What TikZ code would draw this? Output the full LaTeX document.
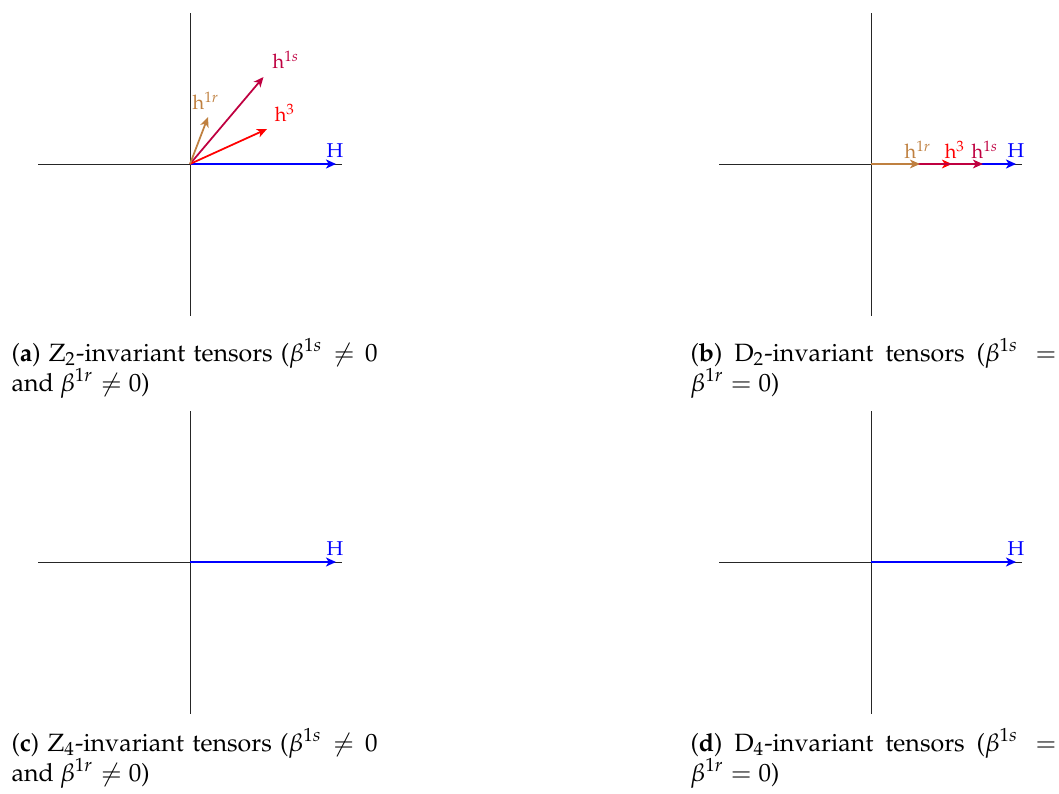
\documentclass[tikz,border=0pt]{standalone}
\usepackage[T1]{fontenc}
\usepackage{mathpazo}
\usetikzlibrary{arrows.meta}
\definecolor{hbrown}{rgb}{0.75,0.5,0.25}
\definecolor{hpurple}{rgb}{0.75,0,0.25}
\begin{document}
\begin{tikzpicture}[x=0.4pt,y=-0.4pt,
  axis/.style={line width=0.4pt, black!85},
  vec/.style={line width=0.7pt,-{Stealth[length=4pt,width=3.5pt,inset=1.1pt]}},
  bigvec/.style={line width=0.85pt,-{Stealth[length=4pt,width=3.6pt,inset=1.1pt]}},
  lab/.style={font=\footnotesize, inner sep=0pt},
  capt/.style={anchor=base west, inner sep=0pt, text width=146.4pt, align=justify}]
\useasboundingbox (0,0) rectangle (1059,793);

% ---------- panel (a)
\coordinate (aO) at (190,164);
\coordinate (aL) at (38,164);  \coordinate (aR) at (342,164);
\coordinate (aT) at (190,13);  \coordinate (aB) at (190,316);
\draw[axis] (aL) -- (aR);
\draw[axis] (aT) -- (aB);
\coordinate (aH) at (336,164);
\coordinate (a1s) at (263.5,77);
\coordinate (a3) at (267,129);
\coordinate (a1r) at (208,117);
\draw[bigvec,blue] (aO) -- (aH);
\draw[vec,hpurple] (aO) -- (a1s);
\draw[vec,red] (aO) -- (a3);
\draw[vec,hbrown] (aO) -- (a1r);
\node[lab,text=blue] (aHl) at (335,151) {$\mathrm{H}$};
\node[lab,text=hpurple] (a1sl) at (286,60) {$\mathrm{h}^{1s}$};
\node[lab,text=red] (a3l) at (285,113) {$\mathrm{h}^{3}$};
\node[lab,text=hbrown] (a1rl) at (206,101) {$\mathrm{h}^{1r}$};
\node[capt] (acap) at (11,361) {(\textbf{a}) Z$_2$-invariant tensors ($\beta^{1s}\neq 0$\linebreak and $\beta^{1r}\neq 0$)};

% ---------- panel (b)
\coordinate (bO) at (871,164);
\coordinate (bL) at (719,164);  \coordinate (bR) at (1022,164);
\coordinate (bT) at (871,13);   \coordinate (bB) at (871,316);
\draw[axis] (bL) -- (bR);
\draw[axis] (bT) -- (bB);
\coordinate (bH) at (1016,164);
\coordinate (b1s) at (983,164);
\coordinate (b3) at (952,164);
\coordinate (b1r) at (920,164);
\draw[bigvec,blue] (bO) -- (bH);
\draw[vec,red] (bO) -- (b3);
\draw[vec,hpurple] (bO) -- (b1s);
\draw[vec,hbrown] (bO) -- (b1r);
\node[lab,text=blue] (bHl) at (1016,151) {$\mathrm{H}$};
\node[lab,text=hpurple] (b1sl) at (985,150) {$\mathrm{h}^{1s}$};
\node[lab,text=red] (b3l) at (955,150) {$\mathrm{h}^{3}$};
\node[lab,text=hbrown] (b1rl) at (918,150) {$\mathrm{h}^{1r}$};
\node[capt] (bcap) at (690,361) {(\textbf{b}) D$_2$-invariant tensors ($\beta^{1s} =$\linebreak $\beta^{1r}=0$)};

% ---------- panel (c)
\coordinate (cO) at (190,562);
\coordinate (cL) at (38,562);  \coordinate (cR) at (342,562);
\coordinate (cT) at (190,411); \coordinate (cB) at (190,714);
\draw[axis] (cL) -- (cR);
\draw[axis] (cT) -- (cB);
\coordinate (cH) at (336,562);
\draw[bigvec,blue] (cO) -- (cH);
\node[lab,text=blue] (cHl) at (335,549) {$\mathrm{H}$};
\node[capt] (ccap) at (11,751) {(\textbf{c}) Z$_4$-invariant tensors ($\beta^{1s}\neq 0$\linebreak and $\beta^{1r}\neq 0$)};

% ---------- panel (d)
\coordinate (dO) at (871,562);
\coordinate (dL) at (719,562);  \coordinate (dR) at (1022,562);
\coordinate (dT) at (871,411);  \coordinate (dB) at (871,714);
\draw[axis] (dL) -- (dR);
\draw[axis] (dT) -- (dB);
\coordinate (dH) at (1016,562);
\draw[bigvec,blue] (dO) -- (dH);
\node[lab,text=blue] (dHl) at (1016,549) {$\mathrm{H}$};
\node[capt] (dcap) at (690,751) {(\textbf{d}) D$_4$-invariant tensors ($\beta^{1s} =$\linebreak $\beta^{1r}=0$)};
\end{tikzpicture}
\end{document}
